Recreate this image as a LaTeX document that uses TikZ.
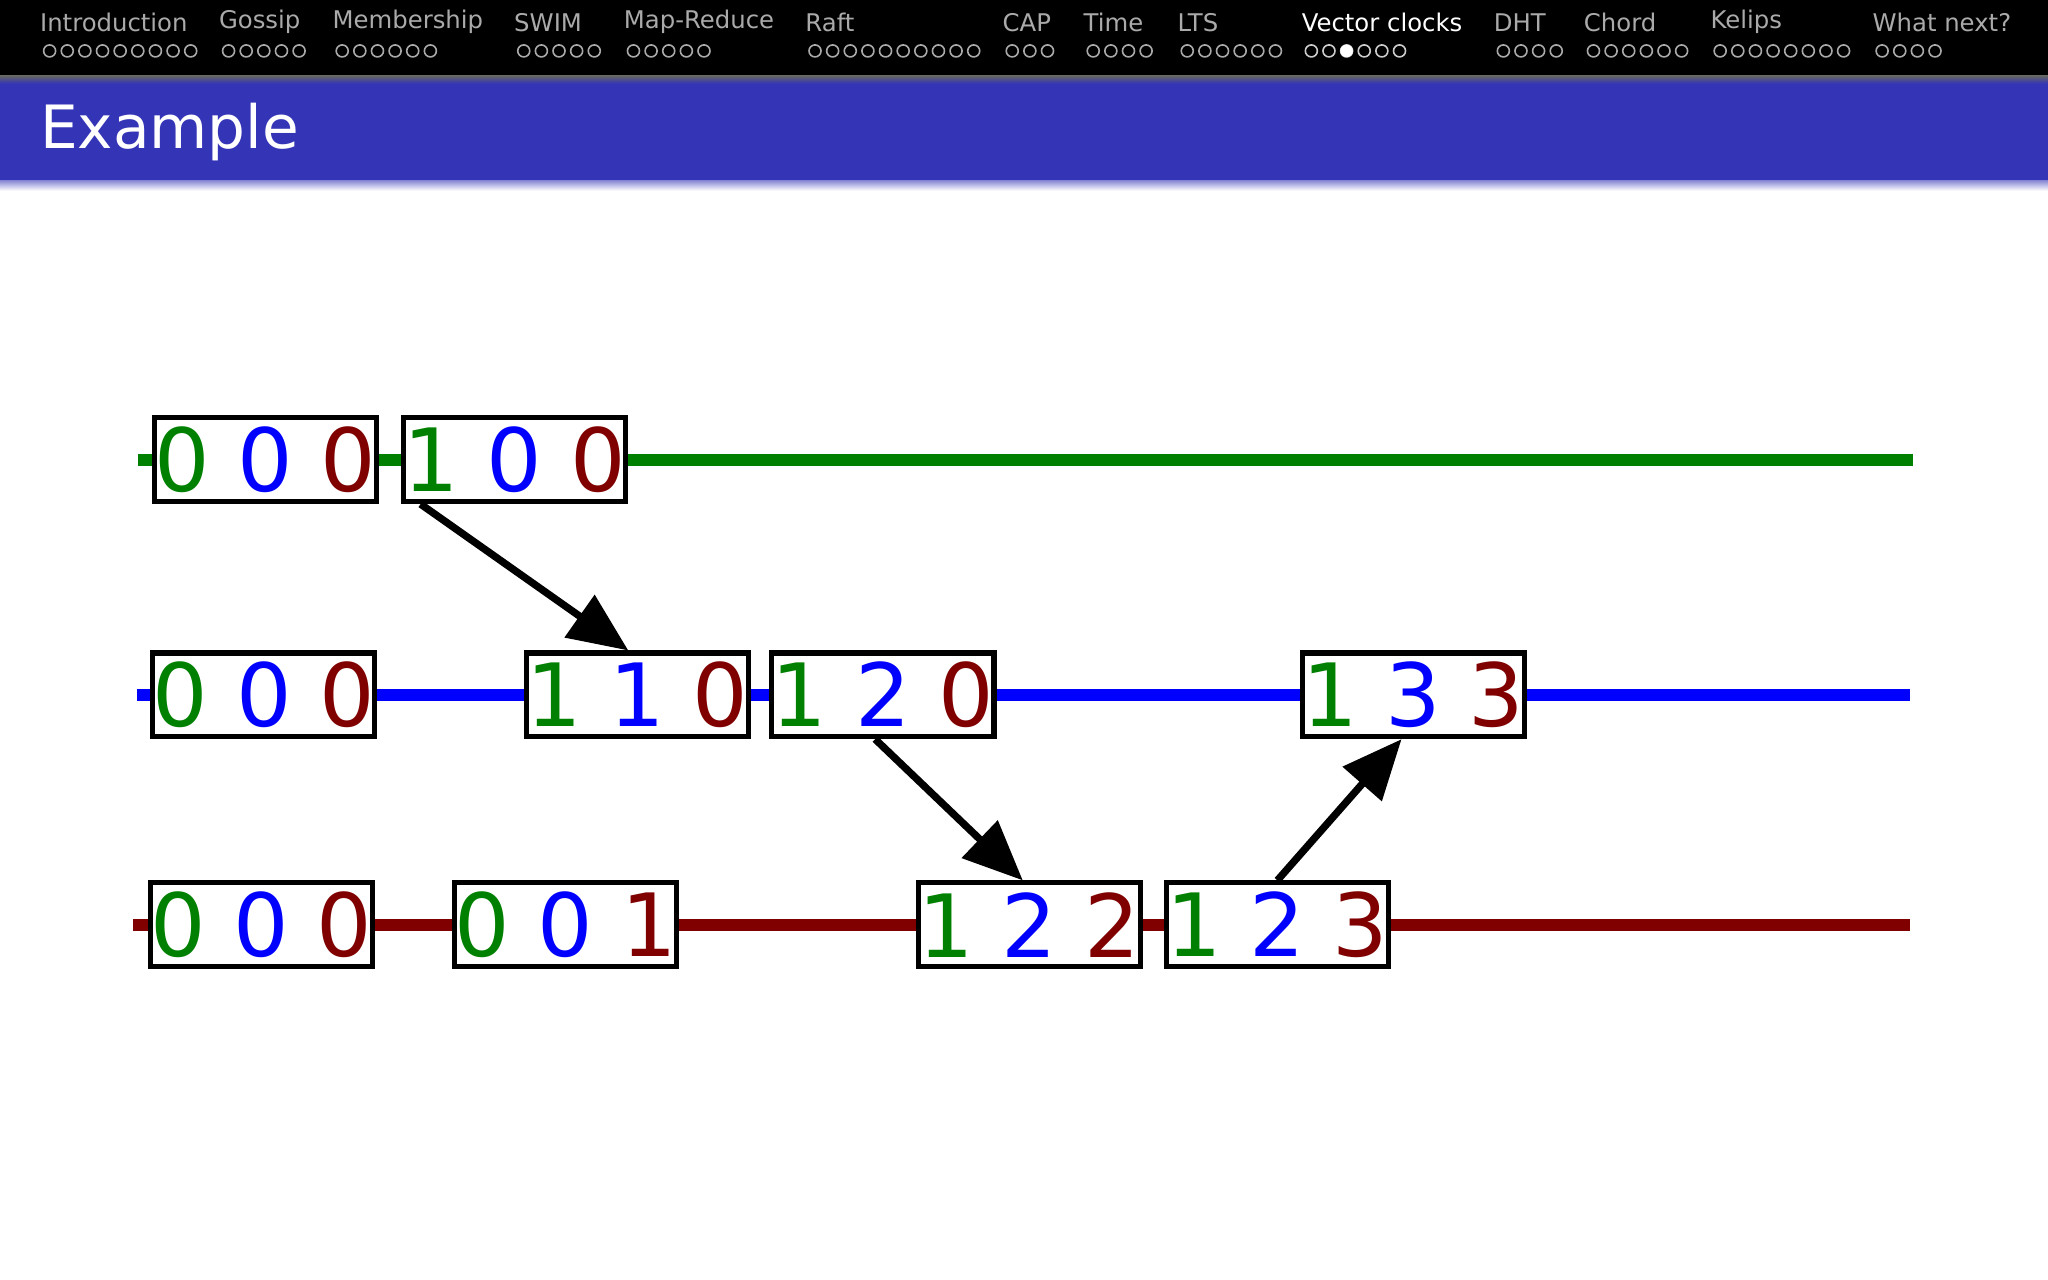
\documentclass[tikz,border=0pt]{standalone}
\usepackage{fontspec}
\setmainfont{DejaVu Sans}
\usetikzlibrary{arrows.meta}
\definecolor{gr}{RGB}{0,128,0}
\definecolor{bl}{RGB}{0,0,255}
\definecolor{dr}{RGB}{128,0,0}
\definecolor{navgray}{RGB}{170,170,170}
\definecolor{titleblue}{RGB}{52,52,183}
\begin{document}
\begin{tikzpicture}[x=0.01cm,y=-0.01cm,
  vc/.style={draw=black,line width=1.1pt,fill=white,minimum width=1.7cm,minimum height=0.64cm,inner sep=0pt,font=\fontsize{19}{19}\selectfont},
  tl/.style={line width=2.6pt},
  msg/.style={line width=1.6pt,-{Triangle[length=13pt,width=11pt]}},
  navt/.style={anchor=west,text=navgray,font=\fontsize{5.3}{6}\selectfont,inner sep=0pt},
  navd/.style={anchor=west,text=navgray,font=\fontsize{3.6}{4}\selectfont,inner sep=0pt}]
\useasboundingbox (0,0) rectangle (1568,980);
\fill[white] (0,0) rectangle (1568,980);
\fill[black] (0,0) rectangle (1568,58);
\shade[top color=black!60,bottom color=titleblue] (0,58) rectangle (1568,64);
\fill[titleblue] (0,64) rectangle (1568,138);
\shade[top color=titleblue!60,bottom color=white] (0,138) rectangle (1568,146);
\node[anchor=west,text=white,font=\fontsize{13}{14}\selectfont,inner sep=0pt] (title) at (30,101) {Example};
% nav
\foreach \x/\t/\n [count=\i] in {30/Introduction/9,167/Gossip/5,254/Membership/6,393/SWIM/5,477/Map-Reduce/5,616/Raft/10,767/CAP/3,829/Time/4,901/LTS/6,1143/DHT/4,1212/Chord/6,1309/Kelips/8,1433/What next?/4}{
  \node[navt] (nt\i) at (\x,17) {\t};
  \foreach \k in {1,...,\n}{\draw[navgray,line width=0.35pt] (\x+8+\k*13.5-13.5,39) circle (4.6);}
}
\node[navt,text=white] (ntv) at (996,17) {Vector clocks};
\foreach \k in {1,...,6}{\draw[white!80!black,line width=0.35pt] (1004+\k*13.5-13.5,39) circle (4.6);}
\fill[white] (1031,39) circle (4.8);
% timelines
\coordinate (g0) at (106,352); \coordinate (g1) at (1465,352);
\coordinate (b0) at (105,532); \coordinate (b1) at (1462,532);
\coordinate (r0) at (102,708); \coordinate (r1) at (1462,708);
\draw[tl,gr] (g0) -- (g1);
\draw[tl,bl] (b0) -- (b1);
\draw[tl,dr] (r0) -- (r1);
\newcommand{\vcv}[3]{\textcolor{gr}{#1} \textcolor{bl}{#2} \textcolor{dr}{#3}}
\node[vc] (ga) at (203,352) {\vcv000};
\node[vc] (gb) at (394,352) {\vcv100};
\node[vc] (ba) at (202,532) {\vcv000};
\node[vc] (bb) at (488,532) {\vcv110};
\node[vc] (bc) at (676,532) {\vcv120};
\node[vc] (bd) at (1082,532) {\vcv133};
\node[vc] (ra) at (200,708) {\vcv000};
\node[vc] (rb) at (433,708) {\vcv001};
\node[vc] (rc) at (788,708) {\vcv122};
\node[vc] (rd) at (978,708) {\vcv123};
\draw[msg] ([xshift=0.15cm]gb.south west) -- ([xshift=0.8cm]bb.north west);
\draw[msg] ([xshift=0.81cm]bc.south west) -- ([xshift=0.82cm]rc.north west);
\draw[msg] (rd.north) -- ([xshift=0.78cm]bd.south west);
\end{tikzpicture}
\end{document}
